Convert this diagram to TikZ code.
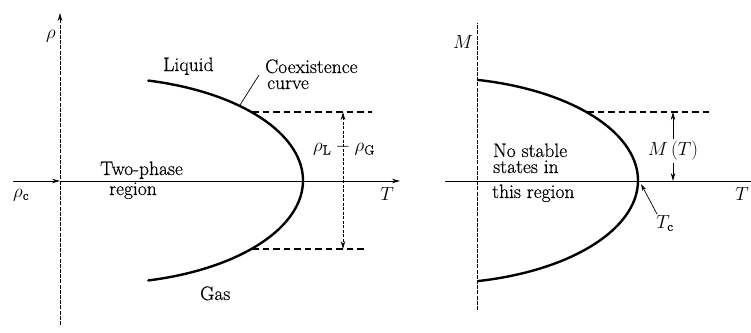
\documentclass[tikz,border=0pt]{standalone}
\usepackage{fix-cm}
\usepackage{fontspec}
\setmainfont{Latin Modern Roman}[FakeBold=0.5]
\usetikzlibrary{arrows.meta}
\begin{document}
\begin{tikzpicture}[x=1pt,y=-1pt,
  axis/.style={line width=0.7pt},
  vaxis/.style={line width=0.7pt, dash pattern=on 4pt off 1.2pt},
  coex/.style={line width=2.4pt, line cap=round},
  guide/.style={line width=1.1pt, dash pattern=on 6.5pt off 4pt},
  dimline/.style={line width=0.7pt},
  tip/.style={-{Stealth[length=8pt,width=4.5pt]}},
  lbl/.style={font=\fontsize{19.5}{16}\selectfont, inner sep=0pt},
  mlbl/.style={font=\fontsize{19}{16}\selectfont, inner sep=0pt},
]
\useasboundingbox (0,0) rectangle (751,332);

% ---------------- left panel ----------------
\coordinate (LA0) at (60,325);
\coordinate (LA1) at (60,13);
\coordinate (LH0) at (13,181);
\coordinate (LO)  at (60,181);
\coordinate (LH1) at (400,181);
\draw[vaxis, tip] (LA0) -- (LA1);
\draw[axis, tip] (LH0) -- (LO);
\draw[axis, tip] (LO) -- (LH1);

\draw[coex] plot[domain=-76:76, samples=80, smooth] ({303-204*(1-cos(\x))}, {180.5+103*sin(\x)});

\coordinate (LgU0) at (252,112);
\coordinate (LgU1) at (372,112);
\coordinate (LgD0) at (252,249);
\coordinate (LgD1) at (366,249);
\draw[guide] (LgU0) -- (LgU1);
\draw[guide] (LgD0) -- (LgD1);

\coordinate (LdU) at (343,112);
\coordinate (LdD) at (343,249);
\draw[dimline, dash pattern=on 3pt off 1.5pt, {Stealth[length=8pt,width=4.5pt]}-{Stealth[length=8pt,width=4.5pt]}] (LdU) -- (LdD);
\node[mlbl] (rlg) at (344,148) {$\rho_{\mathrm{L}}-\rho_{\mathrm{G}}$};

\node[mlbl] (rho) at (51,36) {$\rho$};
\node[mlbl, anchor=base west] (rhoc) at (13,197) {$\rho_{\mathrm{c}}$};
\node[mlbl] (TL) at (387,194) {$T$};
\node[lbl, anchor=base west] (liq) at (163,71) {Liquid};
\node[lbl, anchor=base west] (coe) at (265,73) {Coexistence};
\node[lbl, anchor=base west] (cur) at (267,89) {curve};
\node[lbl, anchor=base west] (two) at (100,175) {Two-phase};
\node[lbl, anchor=base west] (reg) at (109,195) {region};
\node[lbl, anchor=base west] (gas) at (200,300) {Gas};

\coordinate (cl0) at (259,75);
\coordinate (cl1) at (240,105);
\draw[dimline] (cl0) -- (cl1);

% ---------------- right panel ----------------
\coordinate (RA0) at (477,310);
\coordinate (RA1) at (477,23);
\coordinate (RH0) at (445,181);
\coordinate (RH1) at (751,181);
\draw[vaxis] (RA0) -- (RA1);
\draw[axis] (RH0) -- (RH1);

\draw[coex] plot[domain=-77.5:77.5, samples=80, smooth] ({638-204*(1-cos(\x))}, {180.5+103*sin(\x)});

\coordinate (RgU0) at (587,112);
\coordinate (RgU1) at (710,112);
\draw[guide] (RgU0) -- (RgU1);

\node[mlbl, inner sep=2pt] (MT) at (673,151) {$M\,(T)$};
\coordinate (RdU) at (673,112);
\coordinate (RdD) at (673,181);
\draw[dimline, tip] (MT.north) -- (RdU);
\draw[dimline, tip] (MT.south) -- (RdD);

\node[mlbl] (M) at (463,42) {$M$};
\node[mlbl] (TR) at (742,194) {$T$};
\node[mlbl] (Tc) at (665,223) {$T_{\mathrm{c}}$};
\node[lbl, anchor=base west] (ns1) at (493,157) {No stable};
\node[lbl, anchor=base west] (ns2) at (493,173) {states in};
\node[lbl, anchor=base west] (ns3) at (492,198) {this region};

\coordinate (tc0) at (657,214);
\coordinate (tc1) at (641,184);
\draw[dimline, -{Stealth[length=7pt,width=4pt]}] (tc0) -- (tc1);
\end{tikzpicture}
\end{document}
